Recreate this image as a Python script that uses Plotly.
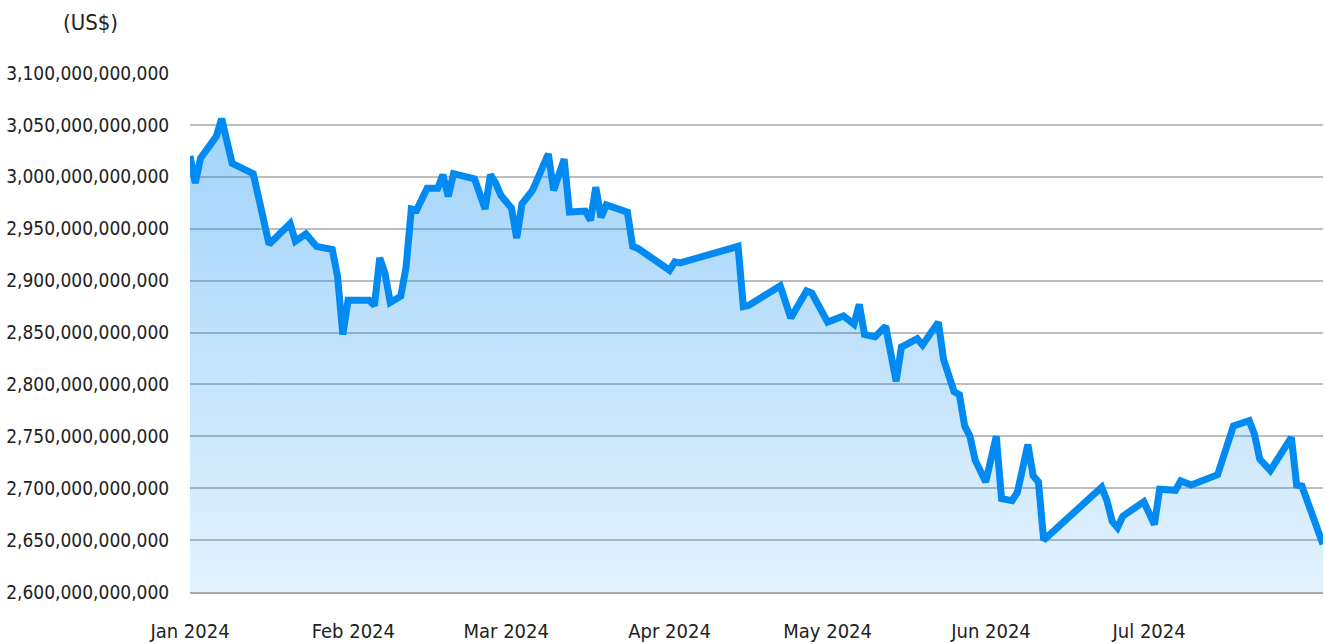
import plotly.graph_objects as go

dates = [
    "2024-01-01", "2024-01-02", "2024-01-03", "2024-01-04", "2024-01-05", "2024-01-06",
    "2024-01-07", "2024-01-09", "2024-01-13", "2024-01-16", "2024-01-20", "2024-01-21",
    "2024-01-23", "2024-01-25", "2024-01-28", "2024-01-29", "2024-01-30", "2024-01-31",
    "2024-02-04", "2024-02-05", "2024-02-06", "2024-02-07", "2024-02-08", "2024-02-10",
    "2024-02-11", "2024-02-12", "2024-02-13", "2024-02-15", "2024-02-17", "2024-02-18",
    "2024-02-19", "2024-02-20", "2024-02-24", "2024-02-26", "2024-02-27", "2024-02-28",
    "2024-02-29", "2024-03-02", "2024-03-03", "2024-03-04", "2024-03-06", "2024-03-09",
    "2024-03-10", "2024-03-12", "2024-03-13", "2024-03-16", "2024-03-17", "2024-03-18",
    "2024-03-19", "2024-03-20", "2024-03-24", "2024-03-25", "2024-03-26", "2024-04-01",
    "2024-04-02", "2024-04-03", "2024-04-14", "2024-04-15", "2024-04-16", "2024-04-22",
    "2024-04-24", "2024-04-27", "2024-04-28", "2024-05-01", "2024-05-04", "2024-05-06",
    "2024-05-07", "2024-05-08", "2024-05-10", "2024-05-12", "2024-05-14", "2024-05-15",
    "2024-05-18", "2024-05-19", "2024-05-22", "2024-05-23", "2024-05-25", "2024-05-26",
    "2024-05-27", "2024-05-28", "2024-05-29", "2024-05-31", "2024-06-02", "2024-06-03",
    "2024-06-05", "2024-06-06", "2024-06-08", "2024-06-09", "2024-06-10", "2024-06-11",
    "2024-06-22", "2024-06-23", "2024-06-24", "2024-06-25", "2024-06-26", "2024-06-30",
    "2024-07-02", "2024-07-03", "2024-07-06", "2024-07-07", "2024-07-09", "2024-07-14",
    "2024-07-17", "2024-07-20", "2024-07-21", "2024-07-22", "2024-07-24", "2024-07-28",
    "2024-07-29", "2024-07-30", "2024-08-03",
]

# values in billions of US$
values_bn = [
    3020, 2994, 3018, 3025, 3031, 3039,
    3056, 3013, 3003, 2935, 2955, 2938,
    2945, 2933, 2930, 2904, 2848, 2881,
    2881, 2876, 2922, 2907, 2879, 2885,
    2913, 2969, 2968, 2989, 2989, 3002,
    2981, 3003, 2998, 2969, 3002, 2994,
    2982, 2970, 2941, 2974, 2987, 3022,
    2987, 3017, 2966, 2967, 2958, 2990,
    2961, 2973, 2966, 2933, 2931, 2910,
    2918, 2917, 2933, 2875, 2876, 2895,
    2864, 2890, 2888, 2860, 2866, 2858,
    2877, 2848, 2846, 2856, 2803, 2836,
    2844, 2838, 2860, 2824, 2793, 2790,
    2760, 2750, 2727, 2706, 2750, 2690,
    2688, 2696, 2742, 2712, 2706, 2650,
    2701, 2688, 2668, 2662, 2673, 2687,
    2665, 2699, 2698, 2707, 2703, 2713,
    2760, 2765, 2752, 2728, 2717, 2749,
    2703, 2702, 2646,
]

values = [v * 1e9 for v in values_bn]

y_min, y_max = 2.6e12, 3.1e12
y_step = 50e9
x_start, x_end = "2024-01-01", "2024-08-03"
unit_label = "(US$)"

FONT = "DejaVu Sans Condensed, Liberation Sans Narrow, Arial Narrow, sans-serif"
LINE = "rgb(0,138,242)"
TEXT = "#222222"

fig = go.Figure()
fig.add_trace(go.Scatter(
    x=dates, y=values, mode="lines",
    line=dict(color=LINE, width=7),
    fill="tozeroy",
    fillgradient=dict(
        type="vertical",
        start=y_min, stop=max(values),
        colorscale=[[0, "rgba(0,138,242,0.11)"], [1, "rgba(0,138,242,0.37)"]],
    ),
    hoverinfo="x+y",
))

fig.update_layout(
    width=1325, height=644,
    margin=dict(l=190, r=2, t=73, b=52),
    paper_bgcolor="white", plot_bgcolor="white",
    showlegend=False,
    font=dict(family=FONT, size=19, color=TEXT),
    xaxis=dict(
        type="date", range=[x_start, x_end],
        tick0="2024-01-01", dtick="M1", tickformat="%b %Y",
        showgrid=False, zeroline=False, automargin=False,
        showline=True, linecolor="#a9a9a9", linewidth=2,
        ticks="outside", ticklen=20, tickcolor="rgba(0,0,0,0)",
        tickfont=dict(family=FONT, size=20, color=TEXT),
    ),
    yaxis=dict(
        range=[y_min, y_max], dtick=y_step, tick0=y_min,
        tickformat=",.0f", automargin=False,
        showgrid=True, gridcolor="#bdbdbd", gridwidth=2,
        zeroline=False, showline=False,
        ticks="outside", ticklen=16, tickcolor="rgba(0,0,0,0)",
        tickfont=dict(family=FONT, size=19, color=TEXT),
    ),
    annotations=[dict(
        text=unit_label, xref="paper", yref="paper",
        x=-0.088, y=1.098, xanchor="center", yanchor="middle",
        showarrow=False, font=dict(family=FONT, size=22, color=TEXT),
    )],
)

fig.write_html(
    "out.html",
    config={"displayModeBar": False},
    post_script="document.body.style.margin='0';document.body.style.overflow='hidden';",
)
